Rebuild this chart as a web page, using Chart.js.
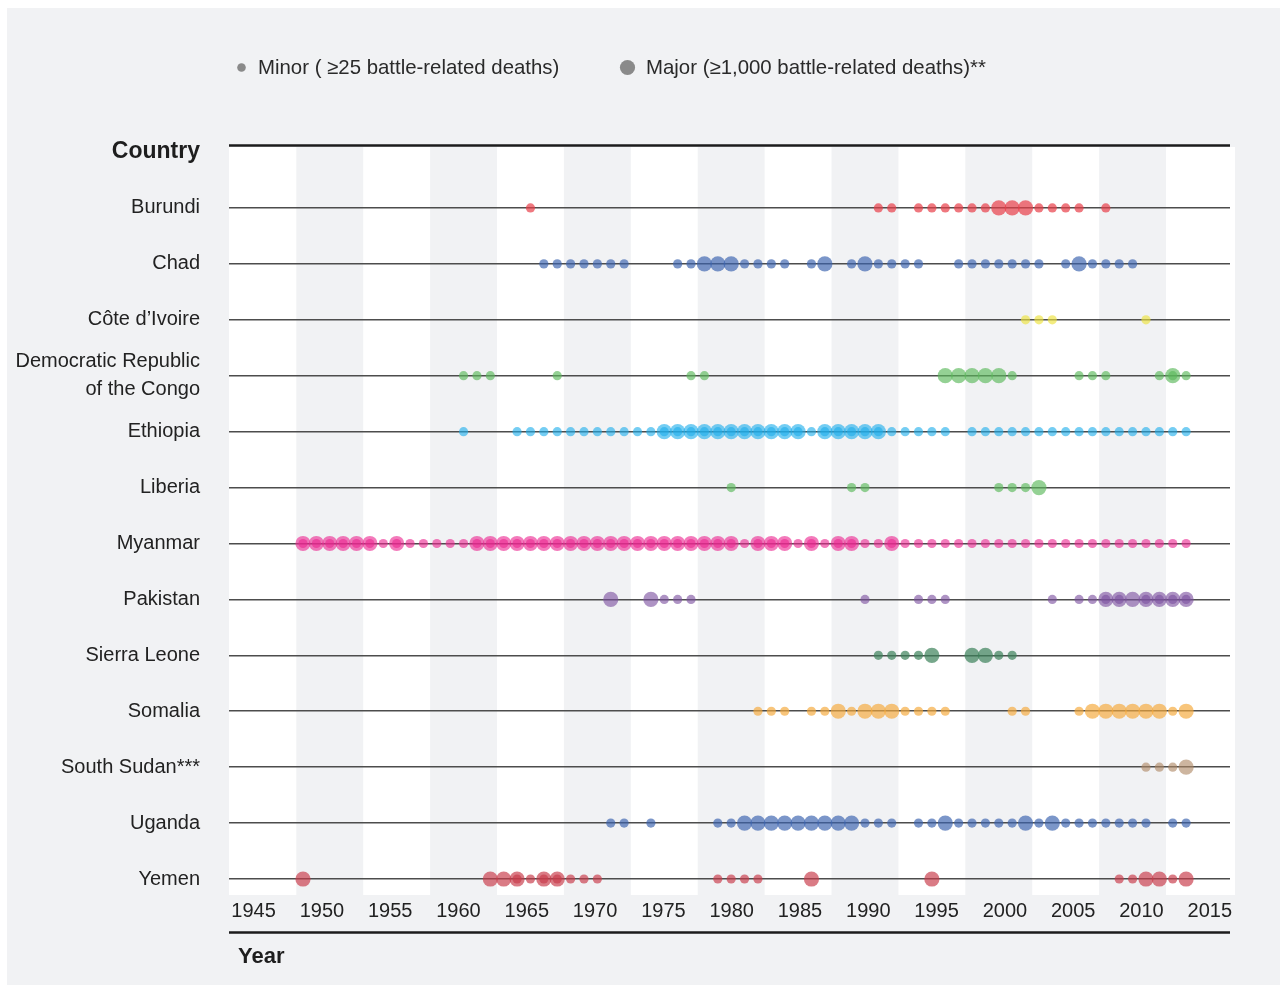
<!DOCTYPE html>
<html>
<head>
<meta charset="utf-8">
<script src="https://cdn.jsdelivr.net/npm/chart.js@4.4.1/dist/chart.umd.min.js"></script>
<style>
  html, body { margin: 0; padding: 0; background: #ffffff; }
  #card { position: absolute; left: 7px; top: 8px; width: 1273px; height: 977px; background: #f1f2f4; }
  #c { position: absolute; left: 0; top: 0; }
</style>
</head>
<body>
<div id="card"></div>
<canvas id="c" width="1282" height="986"></canvas>
<script>
// ---------------- DATA ----------------
const countries = ["Burundi", "Chad", "Côte d’Ivoire", "Democratic Republic\nof the Congo", "Ethiopia", "Liberia",
  "Myanmar", "Pakistan", "Sierra Leone", "Somalia", "South Sudan***", "Uganda", "Yemen"];

const tickYears = [1945, 1950, 1955, 1960, 1965, 1970, 1975, 1980, 1985, 1990, 1995, 2000, 2005, 2010, 2015];
const bandStartYears = [1947.5, 1957.5, 1967.5, 1977.5, 1987.5, 1997.5, 2007.5];

const burundiMajor = [2000, 2001, 2002];
const burundiMinor = [1965, 1991, 1992, 1994, 1995, 1996, 1997, 1998, 1999, 2003, 2004, 2005, 2006, 2008];

const chadMajor = [1978, 1979, 1980, 1987, 1990, 2006];
const chadMinor = [1966, 1967, 1968, 1969, 1970, 1971, 1972, 1976, 1977, 1981, 1982, 1983, 1984, 1986, 1989,
  1991, 1992, 1993, 1994, 1997, 1998, 1999, 2000, 2001, 2002, 2003, 2005, 2007, 2008, 2009, 2010];

const coteMajor = [];
const coteMinor = [2002, 2003, 2004, 2011];

const drcMajor = [1996, 1997, 1998, 1999, 2000, 2013];
const drcMinor = [1960, 1961, 1962, 1967, 1977, 1978, 2001, 2006, 2007, 2008, 2012, 2013, 2014];

const ethiopiaMajor = [1975, 1976, 1977, 1978, 1979, 1980, 1981, 1982, 1983, 1984, 1985, 1987, 1988, 1989, 1990, 1991];
const ethiopiaMinor = [1960, 1964, 1965, 1966, 1967, 1968, 1969, 1970, 1971, 1972, 1973, 1974, 1975, 1976, 1977,
  1978, 1979, 1980, 1981, 1982, 1983, 1984, 1985, 1986, 1987, 1988, 1989, 1990, 1991, 1992, 1993, 1994, 1995, 1996,
  1998, 1999, 2000, 2001, 2002, 2003, 2004, 2005, 2006, 2007, 2008, 2009, 2010, 2011, 2012, 2013, 2014];

const liberiaMajor = [2003];
const liberiaMinor = [1980, 1989, 1990, 2000, 2001, 2002];

const myanmarMajor = [1948, 1949, 1950, 1951, 1952, 1953, 1955, 1961, 1962, 1963, 1964, 1965, 1966, 1967, 1968,
  1969, 1970, 1971, 1972, 1973, 1974, 1975, 1976, 1977, 1978, 1979, 1980, 1982, 1983, 1984, 1986, 1988, 1989, 1992];
const myanmarMinor = [1948, 1949, 1950, 1951, 1952, 1953, 1954, 1955, 1956, 1957, 1958, 1959, 1960, 1961, 1962,
  1963, 1964, 1965, 1966, 1967, 1968, 1969, 1970, 1971, 1972, 1973, 1974, 1975, 1976, 1977, 1978, 1979, 1980, 1981,
  1982, 1983, 1984, 1985, 1986, 1987, 1988, 1989, 1990, 1991, 1992, 1993, 1994, 1995, 1996, 1997, 1998, 1999, 2000,
  2001, 2002, 2003, 2004, 2005, 2006, 2007, 2008, 2009, 2010, 2011, 2012, 2013, 2014];

const pakistanMajor = [1971, 1974, 2008, 2009, 2010, 2011, 2012, 2013, 2014];
const pakistanMinor = [1975, 1976, 1977, 1990, 1994, 1995, 1996, 2004, 2006, 2007, 2008, 2009, 2011, 2012, 2013, 2014];

const sierraLeoneMajor = [1995, 1998, 1999];
const sierraLeoneMinor = [1991, 1992, 1993, 1994, 2000, 2001];

const somaliaMajor = [1988, 1990, 1991, 1992, 2007, 2008, 2009, 2010, 2011, 2012, 2014];
const somaliaMinor = [1982, 1983, 1984, 1986, 1987, 1989, 1993, 1994, 1995, 1996, 2001, 2002, 2006, 2013];

const southSudanMajor = [2014];
const southSudanMinor = [2011, 2012, 2013];

const ugandaMajor = [1981, 1982, 1983, 1984, 1985, 1986, 1987, 1988, 1989, 1996, 2002, 2004];
const ugandaMinor = [1971, 1972, 1974, 1979, 1980, 1990, 1991, 1992, 1994, 1995, 1997, 1998, 1999, 2000, 2001,
  2003, 2005, 2006, 2007, 2008, 2009, 2010, 2011, 2013, 2014];

const yemenMajor = [1948, 1962, 1963, 1964, 1966, 1967, 1986, 1995, 2011, 2012, 2014];
const yemenMinor = [1964, 1965, 1966, 1967, 1968, 1969, 1970, 1979, 1980, 1981, 1982, 2009, 2010, 2013];

const majorByCountry = [burundiMajor, chadMajor, coteMajor, drcMajor, ethiopiaMajor, liberiaMajor, myanmarMajor,
  pakistanMajor, sierraLeoneMajor, somaliaMajor, southSudanMajor, ugandaMajor, yemenMajor];
const minorByCountry = [burundiMinor, chadMinor, coteMinor, drcMinor, ethiopiaMinor, liberiaMinor, myanmarMinor,
  pakistanMinor, sierraLeoneMinor, somaliaMinor, southSudanMinor, ugandaMinor, yemenMinor];

// ---------------- STYLE ----------------
const palette = [
  "rgba(232, 62, 72, 0.70)",   // Burundi
  "rgba(60, 100, 175, 0.68)",  // Chad
  "rgba(236, 226, 60, 0.65)",  // Côte d'Ivoire
  "rgba(90, 185, 90, 0.65)",   // DRC
  "rgba(30, 175, 235, 0.62)",  // Ethiopia
  "rgba(90, 185, 90, 0.65)",   // Liberia
  "rgba(235, 40, 145, 0.62)",  // Myanmar
  "rgba(125, 80, 160, 0.62)",  // Pakistan
  "rgba(60, 130, 90, 0.70)",   // Sierra Leone
  "rgba(245, 170, 60, 0.68)",  // Somalia
  "rgba(175, 135, 100, 0.62)", // South Sudan
  "rgba(60, 100, 175, 0.68)",  // Uganda
  "rgba(200, 60, 75, 0.68)"    // Yemen
];
const FONT = "'Liberation Sans', Arial, Helvetica, sans-serif";
const MINOR_R = 4.6, MAJOR_R = 7.6;

// Minor dots first in the list so they are drawn on top of major dots
const datasets = [];
minorByCountry.forEach((yrs, i) => {
  datasets.push({
    label: countries[i] + " minor",
    data: yrs.map(y => ({ x: y, y: i })),
    backgroundColor: palette[i], borderWidth: 0,
    pointRadius: MINOR_R, pointHoverRadius: MINOR_R, pointBorderWidth: 0
  });
});
majorByCountry.forEach((yrs, i) => {
  datasets.push({
    label: countries[i] + " major",
    data: yrs.map(y => ({ x: y, y: i })),
    backgroundColor: palette[i], borderWidth: 0,
    pointRadius: MAJOR_R, pointHoverRadius: MAJOR_R, pointBorderWidth: 0
  });
});

const decor = {
  id: "decor",
  beforeDraw(chart) {
    const { ctx, chartArea: a, scales } = chart;
    const xs = scales.x;
    ctx.save();
    ctx.fillStyle = "#ffffff";
    ctx.fillRect(a.left, a.top, a.right - a.left + 5, a.bottom - a.top);
    ctx.fillStyle = "#f1f2f4";
    bandStartYears.forEach(s => {
      const x0 = xs.getPixelForValue(s), x1 = xs.getPixelForValue(s + 5);
      ctx.fillRect(x0, a.top, x1 - x0, a.bottom - a.top);
    });
    ctx.restore();
  },
  afterDraw(chart) {
    const { ctx, chartArea: a } = chart;
    ctx.save();
    // heavy rules
    ctx.strokeStyle = "#1c1c1c";
    ctx.lineWidth = 2.6;
    ctx.beginPath();
    ctx.moveTo(a.left, a.top - 1.5); ctx.lineTo(a.right, a.top - 1.5);
    ctx.moveTo(a.left, 932.5); ctx.lineTo(a.right, 932.5);
    ctx.stroke();
    // titles
    ctx.fillStyle = "#1e1e1e";
    ctx.font = "bold 23px " + FONT;
    ctx.textAlign = "right"; ctx.textBaseline = "alphabetic";
    ctx.fillText("Country", 200, 158);
    ctx.font = "bold 22px " + FONT;
    ctx.textAlign = "left";
    ctx.fillText("Year", 238, 963);
    // legend
    ctx.fillStyle = "#8a8a8a";
    ctx.beginPath(); ctx.arc(241.5, 67.5, 4.3, 0, Math.PI * 2); ctx.fill();
    ctx.beginPath(); ctx.arc(627.5, 67.5, 7.6, 0, Math.PI * 2); ctx.fill();
    ctx.fillStyle = "#2a2a2a";
    ctx.font = "20.4px " + FONT;
    ctx.textBaseline = "middle";
    ctx.fillText("Minor ( ≥25 battle-related deaths)", 258, 68);
    ctx.fillText("Major (≥1,000 battle-related deaths)**", 646, 68);
    ctx.restore();
  }
};

new Chart(document.getElementById("c"), {
  type: "scatter",
  data: { datasets },
  options: {
    responsive: false,
    animation: false,
    events: [],
    layout: { padding: { top: 147, right: 52, bottom: 0, left: 0 } },
    plugins: { legend: { display: false }, tooltip: { enabled: false } },
    scales: {
      x: {
        type: "linear", display: false, min: 1942.47, max: 2017.28
      },
      xl: {
        type: "linear", position: "bottom", axis: "x", min: 1943.2, max: 2016.48,
        grid: { display: false, drawTicks: false },
        border: { display: false },
        afterBuildTicks(s) { s.ticks = tickYears.map(v => ({ value: v })); },
        afterFit(s) { s.height = 91; },
        ticks: {
          padding: 4, color: "#222", maxRotation: 0, autoSkip: false,
          font: { family: FONT, size: 20 },
          callback: v => String(v)
        }
      },
      y: {
        type: "linear", reverse: true, min: -1.09, max: 12.286,
        grid: { color: "#4d4d4d", lineWidth: 1.5, drawTicks: false },
        border: { display: false },
        afterBuildTicks(s) { s.ticks = countries.map((_, i) => ({ value: i })); },
        afterFit(s) { s.width = 229; },
        ticks: {
          padding: 29, color: "#222", autoSkip: false,
          font: { family: FONT, size: 20, lineHeight: 1.4 },
          callback: v => countries[v].split("\n")
        }
      }
    }
  },
  plugins: [decor]
});
</script>
</body>
</html>
